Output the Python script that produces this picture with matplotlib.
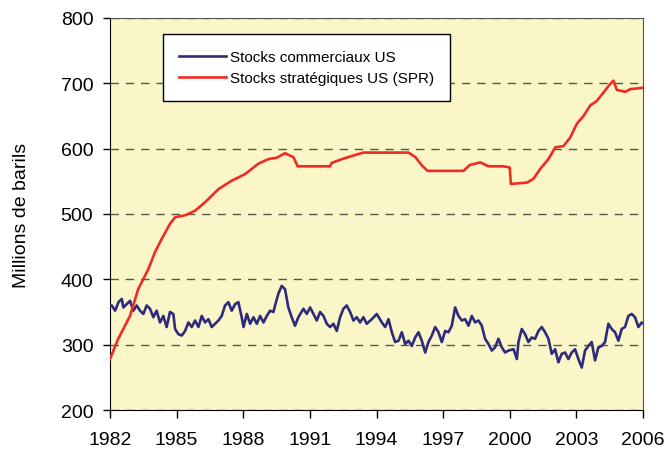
import matplotlib
matplotlib.use('Agg')
import matplotlib.pyplot as plt

plt.rcParams['font.family'] = ['Liberation Sans', 'DejaVu Sans']

# stocks commerciaux US (millions de barils)
annees_com = [1982.00, 1982.08, 1982.23, 1982.38, 1982.53, 1982.60, 1982.75, 1982.90,
              1983.05, 1983.20, 1983.35, 1983.50, 1983.65, 1983.80, 1983.95, 1984.10,
              1984.25, 1984.40, 1984.55, 1984.70, 1984.85, 1984.93, 1985.08, 1985.23,
              1985.38, 1985.53, 1985.68, 1985.83, 1985.98, 1986.13, 1986.28, 1986.43,
              1986.58, 1986.73, 1986.88, 1987.03, 1987.18, 1987.33, 1987.48, 1987.63,
              1987.78, 1987.93,
              1988.01, 1988.16, 1988.31, 1988.46, 1988.61, 1988.76, 1988.91, 1989.06,
              1989.21, 1989.36, 1989.43, 1989.58, 1989.73, 1989.88, 1990.03, 1990.18,
              1990.33, 1990.48, 1990.71, 1990.86, 1991.01, 1991.16, 1991.31, 1991.46,
              1991.61, 1991.76, 1991.91, 1992.06, 1992.21, 1992.36, 1992.51, 1992.66,
              1992.81, 1992.96, 1993.11, 1993.26, 1993.41, 1993.56, 1993.79, 1994.01,
              1994.24, 1994.39, 1994.54, 1994.69, 1994.84, 1994.99, 1995.14, 1995.29,
              1995.44, 1995.59, 1995.74, 1995.89, 1996.04, 1996.19, 1996.34, 1996.49,
              1996.64, 1996.79, 1996.94, 1997.09, 1997.24, 1997.39, 1997.54, 1997.69,
              1997.84, 1997.99, 1998.14, 1998.29, 1998.44, 1998.59, 1998.74, 1998.89,
              1999.04, 1999.19, 1999.34, 1999.49, 1999.64, 1999.79, 1999.94,
              2000.17, 2000.32, 2000.39, 2000.54, 2000.69, 2000.84, 2000.99, 2001.14,
              2001.29, 2001.44, 2001.59, 2001.74, 2001.89, 2002.04, 2002.19, 2002.34,
              2002.49, 2002.64, 2002.79, 2002.94, 2003.09, 2003.24, 2003.39, 2003.54,
              2003.69, 2003.84, 2003.99, 2004.14, 2004.29, 2004.44, 2004.59, 2004.74,
              2004.89, 2005.04, 2005.19, 2005.34, 2005.49, 2005.64, 2005.79, 2005.94,
              2006.02]
stocks_com = [360, 360, 352, 365, 370, 357, 362, 367,
              352, 360, 352, 347, 360, 355, 342, 352,
              334, 344, 327, 350, 347, 324, 316, 314,
              321, 334, 327, 337, 327, 344, 334, 339,
              327, 332, 337, 344, 360, 365, 352, 362,
              365, 342,
              327, 347, 332, 342, 332, 344, 334, 344,
              352, 350, 360, 378, 390, 385, 357, 342,
              329, 342, 355, 347, 357, 347, 337, 350,
              344, 332, 327, 332, 321, 342, 355, 360,
              350, 337, 342, 334, 342, 332, 339, 347,
              334, 327, 339, 319, 304, 306, 319, 301,
              306, 298, 311, 319, 306, 288, 304, 314,
              327, 319, 304, 321, 319, 329, 357, 344,
              337, 339, 329, 344, 334, 337, 329, 309,
              301, 291, 296, 309, 296, 288, 291,
              293, 278, 304, 324, 316, 304, 311, 309,
              321, 327, 319, 309, 286, 293, 273, 286,
              288, 278, 288, 293, 278, 265, 291, 298,
              304, 276, 296, 298, 304, 332, 324, 319,
              306, 324, 327, 344, 347, 342, 327, 334,
              332]

# stocks strategiques US (SPR)
annees_spr = [1982.00, 1982.37, 1982.90, 1983.27, 1983.73, 1984.03, 1984.33, 1984.70,
              1984.93, 1985.38, 1985.83, 1986.28, 1986.88, 1987.48, 1988.08, 1988.68,
              1989.13, 1989.50, 1989.88, 1990.26, 1990.45, 1991.90, 1991.98, 1992.36,
              1992.81, 1993.41, 1995.44, 1995.75, 1996.05, 1996.30, 1997.92, 1998.20,
              1998.67, 1999.04, 1999.72, 2000.00, 2000.05, 2000.77, 2001.07, 2001.37,
              2001.74, 2002.05, 2002.42, 2002.72, 2003.02, 2003.32, 2003.62, 2003.92,
              2004.22, 2004.52, 2004.67, 2004.82, 2005.20, 2005.42, 2005.95, 2006.00]
stocks_spr = [278, 309, 344, 385, 416, 442, 462, 485,
              495, 498, 505, 518, 538, 551, 561, 577,
              584, 586, 593, 587, 573, 573, 578, 583,
              588, 594, 594, 587, 574, 566, 566, 575,
              579, 573, 573, 571, 546, 548, 554, 569,
              584, 602, 604, 617, 638, 650, 666, 673,
              686, 699, 704, 690, 687, 691, 693, 693]

ticks_x = [1982, 1985, 1988, 1991, 1994, 1997, 2000, 2003, 2006]
ticks_y = [200, 300, 400, 500, 600, 700, 800]

fig = plt.figure(figsize=(6.64, 4.52), dpi=100)
ax = fig.add_axes([0.1657, 0.0907, 0.8027, 0.8673])
ax.set_facecolor('#faf6c8')

ax.plot(annees_com, stocks_com, color='#2e2b7c', lw=1.9, label='Stocks commerciaux US', zorder=3)
ax.plot(annees_spr, stocks_spr, color='#ee2b24', lw=1.9, label='Stocks stratégiques US (SPR)', zorder=4)

ax.set_xlim(1982, 2006)
ax.set_ylim(200, 800)
ax.set_xticks(ticks_x)
ax.set_yticks(ticks_y)
ax.tick_params(axis='both', labelsize=14, direction='out', width=1, color='black')
ax.tick_params(axis='x', length=6, pad=9)
ax.tick_params(axis='y', length=5, pad=7)
ax.yaxis.grid(True, linestyle=(0, (6, 5)), color='#555555', lw=1)
ax.set_axisbelow(True)

for s in ['left', 'bottom']:
    ax.spines[s].set_color('black')
for s in ['top', 'right']:
    ax.spines[s].set_color('#555555')

ax.set_ylabel('Millions de barils', fontsize=14, labelpad=22)

leg = ax.legend(loc='upper left', bbox_to_anchor=(0.0994, 0.959), borderaxespad=0,
                fontsize=11, frameon=True, fancybox=False, framealpha=1,
                edgecolor='black', borderpad=1.05, labelspacing=0.45,
                handlelength=3.1, handletextpad=0.25)
leg.get_frame().set_linewidth(1.0)

fig.savefig('out.png', dpi=100)
